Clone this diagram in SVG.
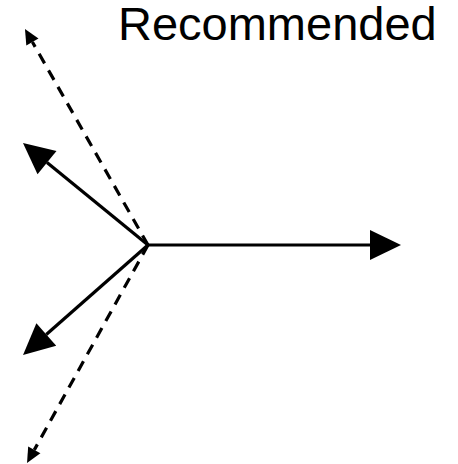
<svg xmlns="http://www.w3.org/2000/svg" width="458" height="464" viewBox="0 0 458 464">
<style>
.ln{stroke:#000;stroke-width:3.2;fill:none}
.dash{stroke-dasharray:11 8}
.t{font-family:"Liberation Sans",Arial,sans-serif;font-size:47px;fill:#000}
</style>
<defs>
<marker id="big" markerUnits="userSpaceOnUse" markerWidth="32" markerHeight="30" refX="0" refY="15" orient="auto" overflow="visible">
<path d="M0,0 L31,15 L0,30 Z" fill="#000"/>
</marker>
<marker id="small" markerUnits="userSpaceOnUse" markerWidth="16" markerHeight="14" refX="0" refY="7" orient="auto" overflow="visible">
<path d="M0,0 L15,7 L0,14 Z" fill="#000"/>
</marker>
</defs>
<rect width="458" height="464" fill="#fff"/>
<g id="label"><text class="t" x="118" y="40">Recommended</text></g>
<g id="connectors">
<line class="ln" x1="148" y1="245" x2="370" y2="245" marker-end="url(#big)"/>
<line class="ln" x1="148" y1="245" x2="47" y2="162.6" marker-end="url(#big)"/>
<line class="ln" x1="148" y1="245" x2="46.3" y2="334.5" marker-end="url(#big)"/>
<line class="ln dash" x1="148" y1="245" x2="32.4" y2="42" marker-end="url(#small)"/>
<line class="ln dash" x1="148" y1="245" x2="34.3" y2="449.9" marker-end="url(#small)"/>
</g>
</svg>
